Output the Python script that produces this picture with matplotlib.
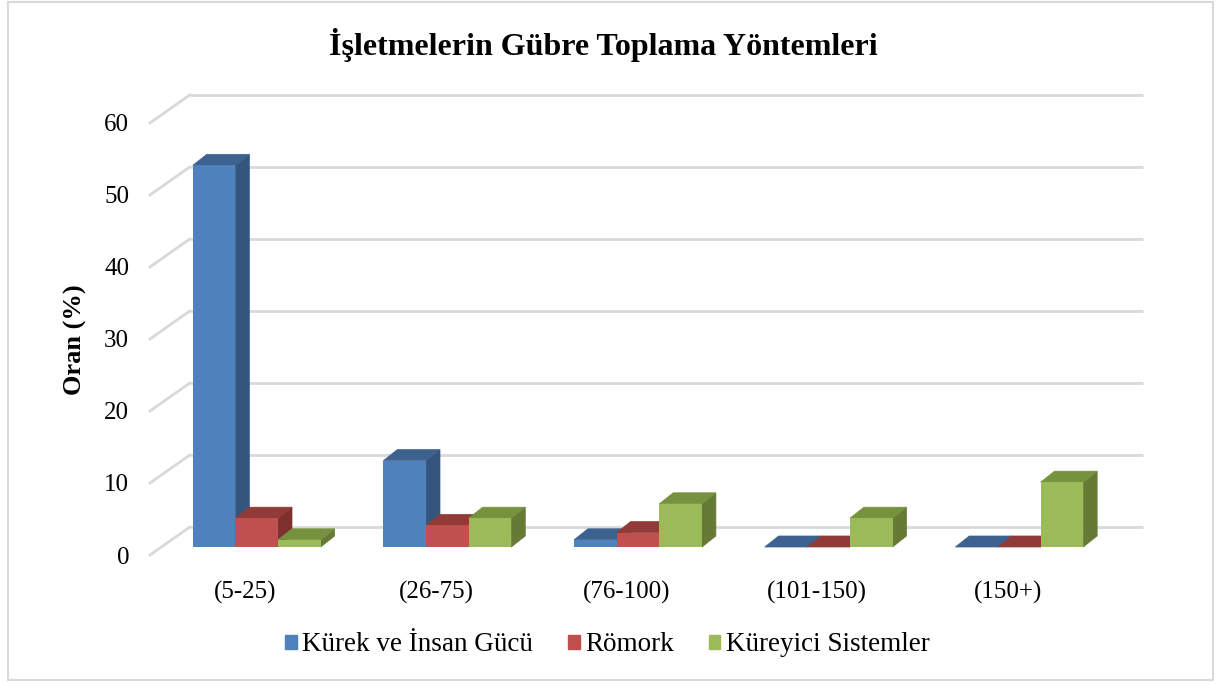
import matplotlib.pyplot as plt
from matplotlib.patches import Polygon, Patch, Rectangle

plt.rcParams['font.family'] = ['Liberation Serif', 'DejaVu Serif']

categories = ['(5-25)', '(26-75)', '(76-100)', '(101-150)', '(150+)']
series = ['Kürek ve İnsan Gücü', 'Römork', 'Küreyici Sistemler']
kurek = [53, 12, 1, 0, 0]
romork = [4, 3, 2, 0, 0]
kureyici = [1, 4, 6, 4, 9]
yticks = [0, 10, 20, 30, 40, 50, 60]

front_cols = ['#4F81BD', '#C0504D', '#9BBB59']
side_cols = ['#34557D', '#7E302E', '#667A36']
top_cols = ['#3D6290', '#913B38', '#77923F']

# depth geometry (category units / value units)
wall_dx, wall_dy = 0.209, 3.89     # front plane -> back wall
bar_x0, bar_y0 = 0.06, 1.11        # front face of bars
bar_dx, bar_dy = 0.073, 1.53       # bar depth
width = 0.2237

fig = plt.figure(figsize=(12.22, 6.86), dpi=100)
ax = fig.add_axes([150 / 1222, 131 / 686, 993 / 1222, 458 / 686])
ax.set_xlim(-0.5, 4.5 + wall_dx)
ax.set_ylim(0, 63.6)
for s in ax.spines.values():
    s.set_visible(False)

grid_col = '#D9D9D9'
for v in yticks:
    ax.plot([-0.5 + wall_dx, 4.5 + wall_dx], [v + wall_dy] * 2,
            color=grid_col, lw=2, zorder=0, solid_capstyle='butt',
            clip_on=False)
    ax.plot([-0.5, -0.5 + wall_dx], [v, v + wall_dy],
            color=grid_col, lw=2, zorder=0, clip_on=False)

values = [kurek, romork, kureyici]
for i in range(len(categories)):
    for j, vals in enumerate(values):
        v = vals[i]
        x = i + bar_x0 - 1.5 * width + j * width
        b = bar_y0
        side = [(x + width, b), (x + width + bar_dx, b + bar_dy),
                (x + width + bar_dx, b + v + bar_dy), (x + width, b + v)]
        top = [(x, b + v), (x + bar_dx, b + v + bar_dy),
               (x + width + bar_dx, b + v + bar_dy), (x + width, b + v)]
        ax.add_patch(Polygon(side, closed=True, fc=side_cols[j],
                             ec=side_cols[j], lw=0.5, zorder=2))
        ax.add_patch(Polygon(top, closed=True, fc=top_cols[j],
                             ec=top_cols[j], lw=0.5, zorder=2))
        if v > 0:
            ax.bar(x, v, width=width, bottom=b, align='edge',
                   color=front_cols[j], lw=0, zorder=3)

ax.set_xticks(range(len(categories)))
ax.set_xticklabels(categories, fontsize=18)
ax.set_yticks(yticks)
ax.set_yticklabels([str(t) for t in yticks], fontsize=18)
ax.tick_params(axis='x', length=0, pad=19)
ax.tick_params(axis='y', length=0, pad=15)
ax.set_ylabel('Oran (%)', fontsize=19, fontweight='bold')
ax.yaxis.set_label_coords(-0.063, 0.47)

fig.text(0.494, 0.934, 'İşletmelerin Gübre Toplama Yöntemleri',
         ha='center', va='center', fontsize=23, fontweight='bold')

handles = [Patch(color=c, label=l) for c, l in zip(front_cols, series)]
fig.legend(handles=handles, loc='center', bbox_to_anchor=(0.497, 0.06),
           ncol=3, frameon=False, fontsize=19.5, handlelength=0.42,
           handleheight=0.42, handletextpad=0.2, columnspacing=1.3)

fig.patches.append(Rectangle((8 / 1222, 6 / 686), 1205 / 1222, 678 / 686,
                             transform=fig.transFigure, fill=False,
                             ec='#D9D9D9', lw=1.5))

fig.savefig('out.png', dpi=100)
